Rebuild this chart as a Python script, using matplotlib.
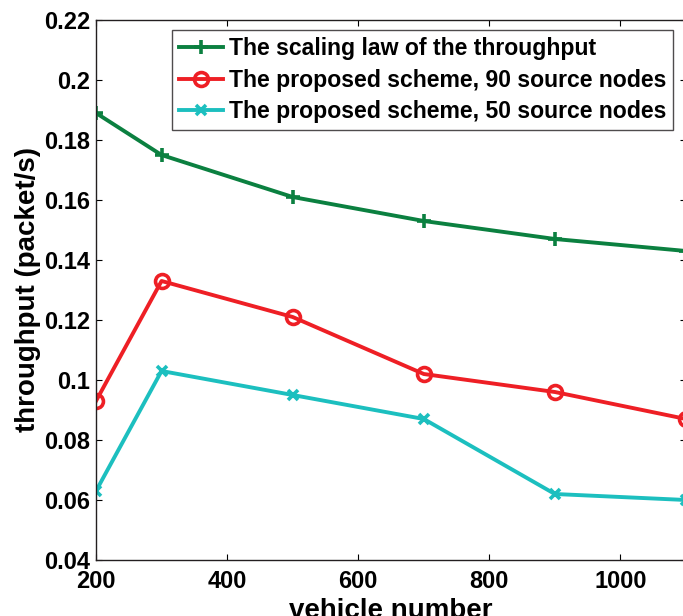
import numpy as np
import matplotlib
matplotlib.use('Agg')
import matplotlib.pyplot as plt

# data
vehicles = [200, 300, 500, 700, 900, 1100]
scaling_law = [0.189, 0.175, 0.161, 0.153, 0.147, 0.143]
scheme_90 = [0.093, 0.133, 0.121, 0.102, 0.096, 0.087]
scheme_50 = [0.063, 0.103, 0.095, 0.087, 0.062, 0.060]
labels = ['The scaling law of the throughput',
          'The proposed scheme, 90 source nodes',
          'The proposed scheme, 50 source nodes']

plt.rcParams['font.family'] = ['Liberation Sans', 'DejaVu Sans']
plt.rcParams['font.weight'] = 'bold'

fig = plt.figure(figsize=(6.83, 6.16), dpi=100)
W, H = 683.0, 616.0
ax = fig.add_axes([96/W, 1 - 560/H, (686-96)/W, (560-20)/H])

ax.plot(vehicles, scaling_law, color='#0b8040', lw=2.8, marker='+', ms=10, mew=2.6, label=labels[0])
ax.plot(vehicles, scheme_90, color='#ee1f25', lw=2.8, marker='o', ms=10, mew=2.6, mfc='none', label=labels[1])
ax.plot(vehicles, scheme_50, color='#1cbfbf', lw=2.8, marker='x', ms=7, mew=2.6, label=labels[2])

ax.set_xlim(200, 1100)
ax.set_ylim(0.04, 0.22)
ax.set_xticks([200, 400, 600, 800, 1000])
ax.set_yticks(np.arange(0.04, 0.221, 0.02))
ax.set_yticklabels(['0.04', '0.06', '0.08', '0.1', '0.12', '0.14', '0.16', '0.18', '0.2', '0.22'])
ax.tick_params(direction='in', top=True, right=True, length=4, width=0.8, labelsize=17)
ax.tick_params(axis='x', pad=7.5)
ax.tick_params(axis='y', pad=4)
for t in ax.get_xticklabels() + ax.get_yticklabels():
    t.set_fontweight('bold')
for s in ax.spines.values():
    s.set_linewidth(1.0)
    s.set_color('#231f20')

# the reference crops the x label at the bottom edge
ax.set_xlabel('vehicle number', fontsize=20, fontweight='bold', labelpad=3)
ax.set_ylabel('throughput (packet/s)', fontsize=20, fontweight='bold', labelpad=2.5)

leg = ax.legend(loc='upper right', bbox_to_anchor=((673-96)/590, 1 - 10/540), fontsize=16.6,
                frameon=True, fancybox=False, edgecolor='#231f20', handlelength=1.9,
                handletextpad=0.25, borderpad=0.3, labelspacing=0.38, borderaxespad=0)
leg.get_frame().set_linewidth(1.0)
for t in leg.get_texts():
    t.set_fontweight('bold')

fig.savefig('out.png', dpi=100)
